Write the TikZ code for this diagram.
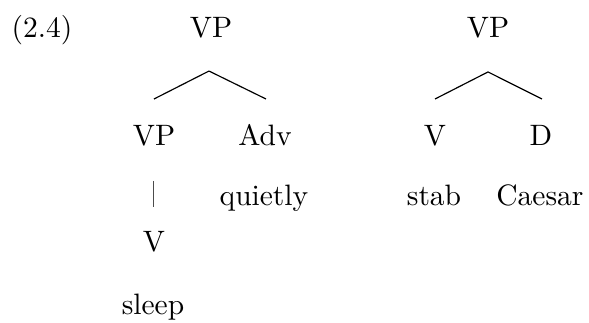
\documentclass[tikz,border=0pt]{standalone}
\usepackage{tikz}
\usetikzlibrary{arrows}

\begin{document}
\begin{tikzpicture}[every node/.style={anchor=base,inner sep=0pt}]
    \useasboundingbox (0,0) rectangle (7.015,3.835);
    \node (ex) at (0.500,3.394) {(2.4)};
    % left tree
    \node (vp1) at (2.513,3.394) {VP};
    \node (vp2) at (1.834,2.108) {VP};
    \node (adv) at (3.156,2.108) {Adv};
    \node (quietly) at (3.144,1.382) {quietly};
    \node (v1) at (1.834,0.834) {V};
    \node (sleep) at (1.822,0.095) {sleep};
    \coordinate (br1) at (2.489,2.989);
    \coordinate (br1l) at (1.834,2.656);
    \coordinate (br1r) at (3.168,2.656);
    \coordinate (st1) at (1.826,1.682);
    \coordinate (st1b) at (1.826,1.370);
    \draw (br1) -- (br1l);
    \draw (br1) -- (br1r);
    \draw[thin,black!70] (st1) -- (st1b);
    % right tree
    \node (vp3) at (5.812,3.394) {VP};
    \node (v2) at (5.181,2.108) {V};
    \node (d) at (6.443,2.108) {D};
    \node (stab) at (5.169,1.382) {stab};
    \node (caesar) at (6.431,1.382) {Caesar};
    \coordinate (br2) at (5.812,2.978);
    \coordinate (br2l) at (5.181,2.656);
    \coordinate (br2r) at (6.455,2.656);
    \draw (br2) -- (br2l);
    \draw (br2) -- (br2r);
  \end{tikzpicture}
\end{document}
